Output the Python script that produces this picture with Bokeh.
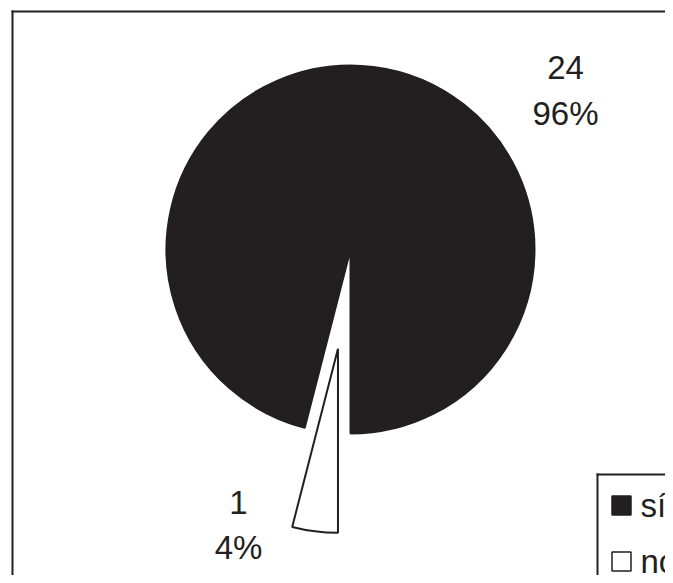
import math
from bokeh.plotting import figure
from bokeh.models import Range1d, ColumnDataSource
from bokeh.core.properties import value
from bokeh.embed import file_html
from bokeh.resources import INLINE

# ---- data ----
categories = ["sí", "no"]
counts = [24, 1]
colors = ["#231f20", "#ffffff"]

total = sum(counts)
percents = [round(100 * c / total) for c in counts]

# ---- layout (pixels from the top-left of the picture) ----
W, H = 665, 575
INK = "#231f20"
FONT = "Liberation Sans"


def sy(y):
    """screen y -> data y (data y grows upward)"""
    return H - y


cx, cy, R = 350, 249, 184
start_deg = 270.0
explode = [0, 100]
label_pos = [(565, 67, 113), (238, 502, 547)]

p = figure(width=W, height=H, output_backend="svg", toolbar_location=None,
           x_range=Range1d(0, W), y_range=Range1d(0, H),
           min_border=0, outline_line_color=None)
p.axis.visible = False
p.grid.visible = False
p.background_fill_color = "white"
p.border_fill_color = "white"

# outer frame (only left and top edges are visible)
p.segment(x0=[12, 11], y0=[sy(10), sy(11)], x1=[12, W + 1], y1=[sy(H + 1), sy(11)],
          line_color=INK, line_width=2)

# wedges
xs, ys, starts, ends = [], [], [], []
a = math.radians(start_deg)
for c, e in zip(counts, explode):
    span = 2 * math.pi * c / total
    mid = a + span / 2
    xs.append(cx + e * math.cos(mid))
    ys.append(sy(cy) + e * math.sin(mid))
    starts.append(a)
    ends.append(a + span)
    a += span

src = ColumnDataSource(dict(x=xs, y=ys, start=starts, end=ends, color=colors,
                            cat=categories))
p.wedge(x="x", y="y", radius=R, start_angle="start", end_angle="end",
        fill_color="color", line_color=INK, line_width=2, source=src)

# labels
for c, pc, (lx, ly1, ly2) in zip(counts, percents, label_pos):
    p.text(x=[lx], y=[sy(ly1)], text=[str(c)], text_align="center",
           text_baseline="middle", text_font=value(FONT),
           text_font_size="33px", text_color=INK)
    p.text(x=[lx], y=[sy(ly2)], text=[f"{pc}%"], text_align="center",
           text_baseline="middle", text_font=value(FONT),
           text_font_size="33px", text_color=INK)

# legend box (cut off at right and bottom)
p.segment(x0=[597, 596], y0=[sy(473), sy(474)], x1=[597, W + 1], y1=[sy(H + 1), sy(474)],
          line_color=INK, line_width=2)
leg_y = [505, 561]
for cat, col, ly in zip(categories, colors, leg_y):
    p.rect(x=[621], y=[sy(ly)], width=19, height=19, fill_color=col,
           line_color=INK, line_width=1.5)
    p.text(x=[640], y=[sy(ly)], text=[cat], text_align="left",
           text_baseline="middle", text_font=value(FONT),
           text_font_size="33px", text_color=INK)

open("out.html", "w").write(file_html(p, INLINE))
